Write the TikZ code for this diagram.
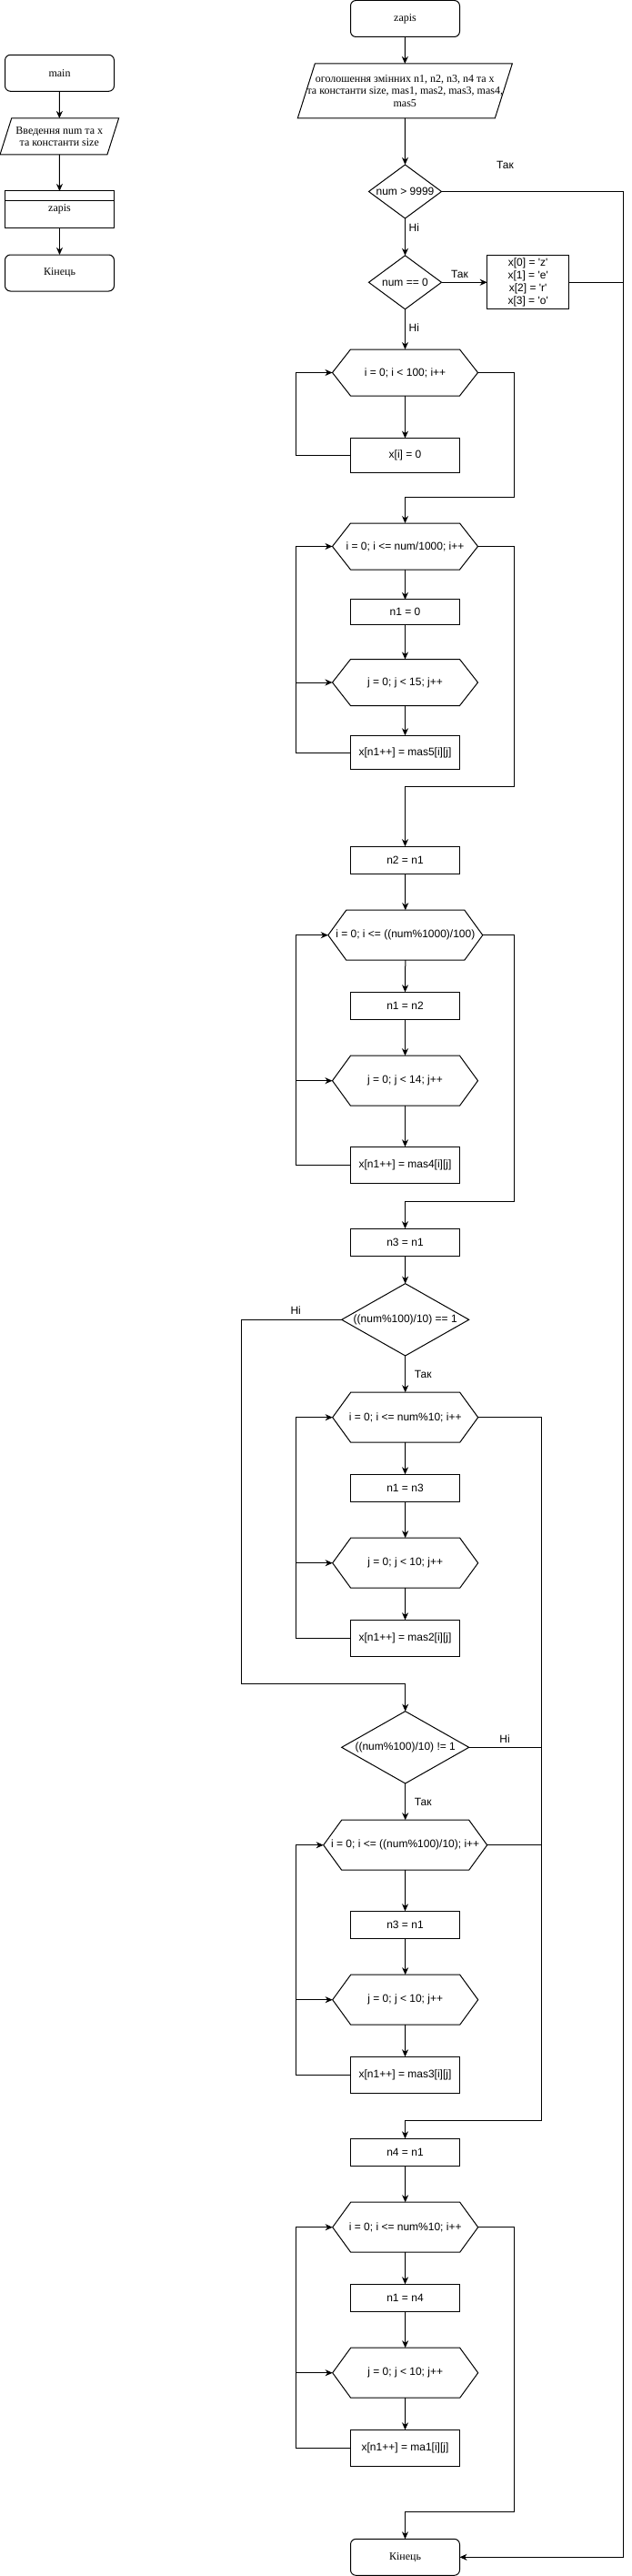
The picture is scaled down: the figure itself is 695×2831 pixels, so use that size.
\documentclass[tikz,border=0pt]{standalone}
\usepackage{fontspec}
\setmainfont{Liberation Serif}
\newfontfamily\sansf{Liberation Sans}
\usetikzlibrary{arrows.meta,calc}
\tikzset{
  shapeline/.style={draw=black, line width=1pt, line join=miter},
  shapebox/.style={rectangle, inner sep=0pt, outer sep=0pt, align=center, font=\sansf\fontsize{12}{14}\selectfont},
  procbox/.style={shapebox, draw=black, line width=1pt},
  termbox/.style={procbox, rounded corners=6pt, font=\rmfamily\fontsize{12}{14}\selectfont},
  conn/.style={draw=black, line width=1pt, -{Stealth[length=8pt,width=7pt,inset=2.5pt]}},
  plainline/.style={draw=black, line width=1pt},
  lbl/.style={inner sep=0pt, font=\sansf\fontsize{12}{14}\selectfont},
}
% name, x, y, w, h, text
\newcommand\hexnode[6]{%
  \node[shapebox, minimum width=#4pt, minimum height=#5pt] (#1) at (#2,#3) {#6};
  \draw[shapeline] ($(#1.north west)+(20pt,0pt)$) -- ($(#1.north east)+(-20pt,0pt)$) -- (#1.east) -- ($(#1.south east)+(-20pt,0pt)$) -- ($(#1.south west)+(20pt,0pt)$) -- (#1.west) -- cycle;
}
\newcommand\diamnode[6]{%
  \node[shapebox, minimum width=#4pt, minimum height=#5pt] (#1) at (#2,#3) {#6};
  \draw[shapeline] (#1.north) -- (#1.east) -- (#1.south) -- (#1.west) -- cycle;
}
% name, x, y, w, h, text, skew
\newcommand\paranode[7]{%
  \node[shapebox, minimum width=#4pt, minimum height=#5pt, font=\rmfamily\fontsize{12}{13.4}\selectfont] (#1) at (#2,#3) {#6};
  \draw[shapeline] ($(#1.north west)+(#7pt,0pt)$) -- (#1.north east) -- ($(#1.south east)+(-#7pt,0pt)$) -- (#1.south west) -- cycle;
}
\newcommand\procnode[6]{%
  \node[procbox, minimum width=#4pt, minimum height=#5pt] (#1) at (#2,#3) {#6};
}
\begin{document}
\begin{tikzpicture}[x=1pt,y=-1pt]
\useasboundingbox (0,0) rectangle (695,2831);
\fill[white] (0,0) rectangle (695,2831);

% ---------- left column: main ----------
\node[termbox, minimum width=120pt, minimum height=40pt] (main) at (65.5,80.3) {main};
\paranode{inp}{65.3}{150}{130.6}{40}{Введення num та x\\та константи size}{12.7}
\node[procbox, font=\rmfamily\fontsize{12}{14}\selectfont, minimum width=120pt, minimum height=40pt] (call) at (65.5,230) {\raisebox{-3pt}{zapis}};
\draw[plainline] ($(call.north west)+(0pt,-10pt)$) -- ($(call.north east)+(0pt,-10pt)$);
\node[termbox, minimum width=120pt, minimum height=40pt] (lend) at (65.5,300) {Кінець};
\draw[conn] (main.south) -- (inp.north);
\draw[conn] (inp.south) -- (call.north);
\draw[conn] (call.south) -- (lend.north);

% ---------- right column: zapis ----------
\node[termbox, minimum width=120pt, minimum height=40pt] (zap) at (445.5,20.5) {zapis};
\paranode{decl}{445.3}{100}{236}{60}{оголошення змінних n1, n2, n3, n4 та x\\та константи size, mas1, mas2, mas3, mas4,\\mas5}{19}
\diamnode{d1}{445.5}{210.5}{80}{59}{num > 9999}
\diamnode{d2}{445.5}{310.3}{80}{59}{num == 0}
\node[procbox, minimum width=90pt, minimum height=59pt] (zero) at (580.7,310.3) {x[0] = \textquotesingle z\textquotesingle\\x[1] = \textquotesingle e\textquotesingle\\x[2] = \textquotesingle r\textquotesingle\\x[3] = \textquotesingle o\textquotesingle};

\hexnode{h1}{445.5}{409.5}{160}{51}{i = 0; i < 100; i++}
\procnode{b1}{445.5}{500.3}{120}{37.4}{x[i] = 0}
\hexnode{h2}{445.5}{600.5}{160}{51}{i = 0; i <= num/1000; i++}
\procnode{b2}{445.5}{672.8}{120}{27.7}{n1 = 0}
\hexnode{h3}{445.5}{750}{160}{51}{j = 0; j < 15; j++}
\procnode{b3}{445.5}{827}{120}{37.4}{x[n1++] = mas5[i][j]}
\procnode{b4}{445.5}{945.2}{120}{30}{n2 = n1}
\hexnode{h4}{445.8}{1027.7}{170}{55}{i = 0; i <= ((num\%1000)/100)}
\procnode{b5}{445.5}{1105.3}{120}{30}{n1 = n2}
\hexnode{h5}{445.5}{1187.7}{160}{55}{j = 0; j < 14; j++}
\procnode{b6}{445.5}{1280.3}{120}{40}{x[n1++] = mas4[i][j]}
\procnode{b7}{445.5}{1365.2}{120}{30}{n3 = n1}
\diamnode{d3}{445.7}{1450.3}{140}{79.3}{((num\%100)/10) == 1}
\hexnode{h6}{445.7}{1557.7}{160}{55}{i = 0; i <= num\%10; i++}
\procnode{b8}{445.5}{1635.3}{120}{30}{n1 = n3}
\hexnode{h7}{445.7}{1717.7}{160}{55}{j = 0; j < 10; j++}
\procnode{b9}{445.5}{1800.3}{120}{40}{x[n1++] = mas2[i][j]}
\diamnode{d4}{445.7}{1920.3}{140}{79.3}{((num\%100)/10) != 1}
\hexnode{h8}{445.7}{2027.7}{180}{55}{i = 0; i <= ((num\%100)/10); i++}
\procnode{b10}{445.5}{2115.3}{120}{30}{n3 = n1}
\hexnode{h9}{445.7}{2197.7}{160}{55}{j = 0; j < 10; j++}
\procnode{b11}{445.5}{2280.3}{120}{40}{x[n1++] = mas3[i][j]}
\procnode{b12}{445.5}{2365.3}{120}{30}{n4 = n1}
\hexnode{h10}{445.7}{2447.7}{160}{55}{i = 0; i <= num\%10; i++}
\procnode{b13}{445.5}{2525.3}{120}{30}{n1 = n4}
\hexnode{h11}{445.7}{2607.7}{160}{55}{j = 0; j < 10; j++}
\procnode{b14}{445.5}{2690.3}{120}{40}{x[n1++] = ma1[i][j]}
\node[termbox, minimum width=120pt, minimum height=40pt] (rend) at (445.5,2810.3) {Кінець};

% ---------- labels ----------
\node[lbl] at (555.5,181) {Так};
\node[lbl] at (455.3,250) {Ні};
\node[lbl] at (505.5,301) {Так};
\node[lbl] at (455.3,360) {Ні};
\node[lbl] at (325.2,1440) {Ні};
\node[lbl] at (465.2,1510) {Так};
\node[lbl] at (555,1910.7) {Ні};
\node[lbl] at (465.2,1980) {Так};

% ---------- connectors ----------
\draw[conn] (zap.south) -- (decl.north);
\draw[conn] (decl.south) -- (d1.north);
\draw[conn] (d1.east) -- (685.7,210.5) |- (rend.east);
\draw[conn] (d1.south) -- (d2.north);
\draw[conn] (d2.east) -- (zero.west);
\draw[plainline] (zero.east) -- (685.7,310.3);
\draw[conn] (d2.south) -- (h1.north);

% loop 1
\draw[conn] (h1.south) -- (b1.north);
\draw[conn] (b1.west) -| (325.3,409.5) -- (h1.west);
\draw[conn] (h1.east) -| (565.7,546.7) -| (h2.north);

% loop 2
\draw[conn] (h2.south) -- (b2.north);
\draw[conn] (b2.south) -- (h3.north);
\draw[conn] (h3.south) -- (b3.north);
\draw[conn] (b3.west) -| (325.3,600.5) -- (h2.west);
\draw[conn] (325.3,750) -- (h3.west);
\draw[conn] (h2.east) -| (565.7,864) -| (b4.north);

% loop 3
\draw[conn] (b4.south) -- (h4.north);
\draw[conn] (h4.south) -- (b5.north);
\draw[conn] (b5.south) -- (h5.north);
\draw[conn] (h5.south) -- (b6.north);
\draw[conn] (b6.west) -| (325.3,1027.7) -- (h4.west);
\draw[conn] (325.3,1187.7) -- (h5.west);
\draw[conn] (h4.east) -| (565.7,1320) -| (b7.north);
\draw[conn] (b7.south) -- (d3.north);

% branch 3
\draw[conn] (d3.west) -| (265.3,1850) -| (d4.north);
\draw[conn] (d3.south) -- (h6.north);
\draw[conn] (h6.south) -- (b8.north);
\draw[conn] (b8.south) -- (h7.north);
\draw[conn] (h7.south) -- (b9.north);
\draw[conn] (b9.west) -| (325.3,1557.7) -- (h6.west);
\draw[conn] (325.3,1717.7) -- (h7.west);
\draw[conn] (h6.east) -| (595.3,2330) -| (b12.north);

% branch 4
\draw[plainline] (d4.east) -- (595.3,1920.3);
\draw[conn] (d4.south) -- (h8.north);
\draw[conn] (h8.south) -- (b10.north);
\draw[conn] (b10.south) -- (h9.north);
\draw[conn] (h9.south) -- (b11.north);
\draw[conn] (b11.west) -| (325.3,2027.7) -- (h8.west);
\draw[conn] (325.3,2197.7) -- (h9.west);
\draw[plainline] (h8.east) -- (595.3,2027.7);

% loop 5
\draw[conn] (b12.south) -- (h10.north);
\draw[conn] (h10.south) -- (b13.north);
\draw[conn] (b13.south) -- (h11.north);
\draw[conn] (h11.south) -- (b14.north);
\draw[conn] (b14.west) -| (325.3,2447.7) -- (h10.west);
\draw[conn] (325.3,2607.7) -- (h11.west);
\draw[conn] (h10.east) -| (565.3,2760) -| (rend.north);
\end{tikzpicture}
\end{document}
